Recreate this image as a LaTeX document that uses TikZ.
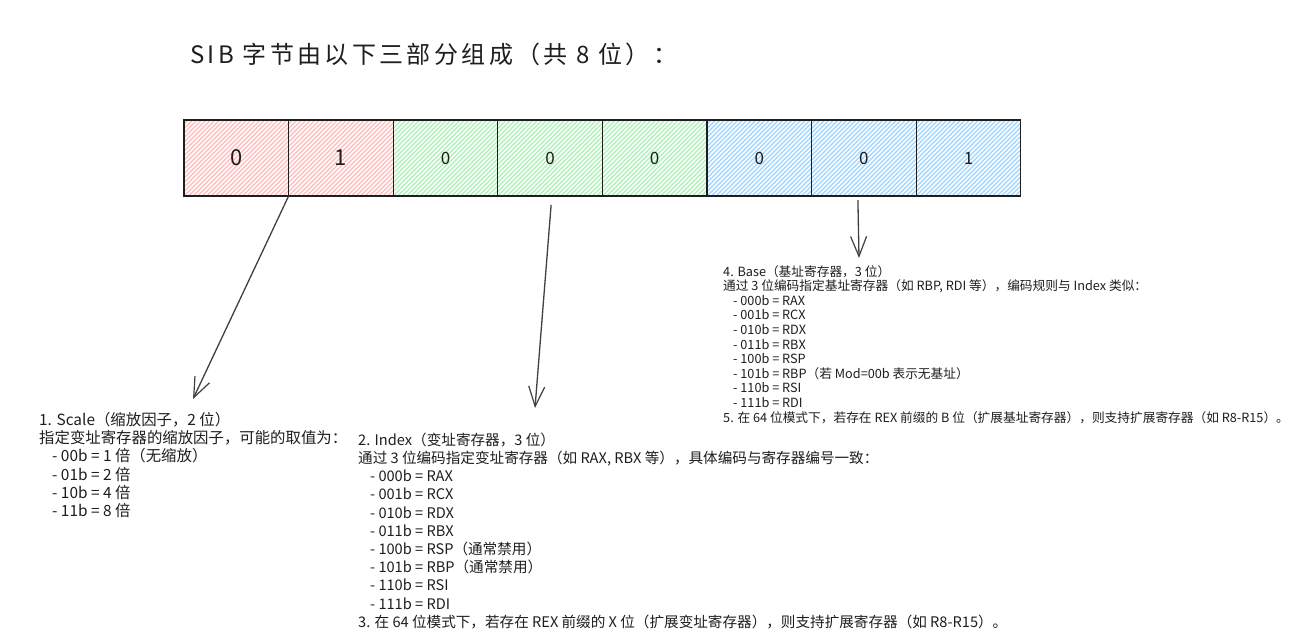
\documentclass[tikz,border=0pt]{standalone}
\usepackage{fontspec}
\setmainfont{Noto Sans CJK SC}
\newfontfamily\titlefont[LetterSpace=14]{Noto Sans CJK SC}
\usetikzlibrary{arrows.meta}
\definecolor{inkc}{HTML}{1E1E1E}
\definecolor{redh}{HTML}{FFC0C0}
\definecolor{greenh}{HTML}{B2F2BB}
\definecolor{blueh}{HTML}{A5D8FF}
\tikzset{
  cell/.style={draw=inkc,line width=1.2pt,minimum width=104.6pt,minimum height=76pt,inner sep=0pt,outer sep=0pt,anchor=north west,
    path picture={\foreach \k in {-18,...,25}{\draw[#1,line width=1.4pt] ([xshift=\k*4.5pt]path picture bounding box.south west) -- ++(80,-80);}}},
  bigdigit/.style={font=\fontsize{22}{24}\selectfont,text=inkc},
  smalldigit/.style={font=\fontsize{17}{20}\selectfont\itshape,text=inkc},
  pointer/.style={draw=inkc!85,line width=1.3pt,-{Straight Barb[length=20pt,width=16pt,line width=1.2pt]}},
  note/.style={anchor=north west,inner sep=0pt,align=left,text=inkc},
}
\begin{document}
\begin{tikzpicture}[x=1pt,y=-1pt]
\useasboundingbox[fill=white] (0,0) rectangle (1305,641);
\node[anchor=north west,inner sep=0pt,text=inkc,font=\fontsize{24}{28}\selectfont\titlefont] (title) at (190,43) {SIB 字节由以下三部分组成（共 8 位）：};
\node[cell=redh] (c1) at (184,120) {};
\node[cell=redh] (c2) at (288.6,120) {};
\node[cell=greenh] (c3) at (393.2,120) {};
\node[cell=greenh] (c4) at (497.8,120) {};
\node[cell=greenh] (c5) at (602.4,120) {};
\node[cell=blueh] (c6) at (707,120) {};
\node[cell=blueh] (c7) at (811.6,120) {};
\node[cell=blueh] (c8) at (916.2,120) {};
\node[bigdigit] (d1) at (c1.center) {0};
\node[bigdigit] (d2) at (c2.center) {1};
\node[smalldigit] (d3) at (c3.center) {0};
\node[smalldigit] (d4) at (c4.center) {0};
\node[smalldigit] (d5) at (c5.center) {0};
\node[smalldigit] (d6) at (c6.center) {0};
\node[smalldigit] (d7) at (c7.center) {0};
\node[smalldigit] (d8) at (c8.center) {1};
\coordinate (e1) at (193,399);
\coordinate (e2) at (535,408);
\coordinate (e3) at (859,258);
\draw[pointer] (c1.south east) -- (e1);
\draw[pointer] ([yshift=-9pt,xshift=1pt]c4.south) -- (e2);
\draw[pointer] ([yshift=-4pt,xshift=-6pt]c7.south) -- (e3);
\node[note,font=\fontsize{15.4}{18.3}\selectfont] (scale) at (39,412) {1. Scale（缩放因子，2 位）\\
指定变址寄存器的缩放因子，可能的取值为：\\
\hspace*{13pt}- 00b = 1 倍（无缩放）\\
\hspace*{13pt}- 01b = 2 倍\\
\hspace*{13pt}- 10b = 4 倍\\
\hspace*{13pt}- 11b = 8 倍};
\node[note,font=\fontsize{14.6}{18.2}\selectfont] (index) at (358,432.5) {2. Index（变址寄存器，3 位）\\
通过 3 位编码指定变址寄存器（如 RAX, RBX 等），具体编码与寄存器编号一致：\\
\hspace*{12pt}- 000b = RAX\\
\hspace*{12pt}- 001b = RCX\\
\hspace*{12pt}- 010b = RDX\\
\hspace*{12pt}- 011b = RBX\\
\hspace*{12pt}- 100b = RSP（通常禁用）\\
\hspace*{12pt}- 101b = RBP（通常禁用）\\
\hspace*{12pt}- 110b = RSI\\
\hspace*{12pt}- 111b = RDI\\
3. 在 64 位模式下，若存在 REX 前缀的 X 位（扩展变址寄存器），则支持扩展寄存器（如 R8-R15）。};
\node[note,font=\fontsize{12.7}{14.6}\selectfont] (base) at (723,265) {4. Base（基址寄存器，3 位）\\
通过 3 位编码指定基址寄存器（如 RBP, RDI 等），编码规则与 Index 类似：\\
\hspace*{10pt}- 000b = RAX\\
\hspace*{10pt}- 001b = RCX\\
\hspace*{10pt}- 010b = RDX\\
\hspace*{10pt}- 011b = RBX\\
\hspace*{10pt}- 100b = RSP\\
\hspace*{10pt}- 101b = RBP（若 Mod=00b 表示无基址）\\
\hspace*{10pt}- 110b = RSI\\
\hspace*{10pt}- 111b = RDI\\
5. 在 64 位模式下，若存在 REX 前缀的 B 位（扩展基址寄存器），则支持扩展寄存器（如 R8-R15）。};
\end{tikzpicture}
\end{document}
